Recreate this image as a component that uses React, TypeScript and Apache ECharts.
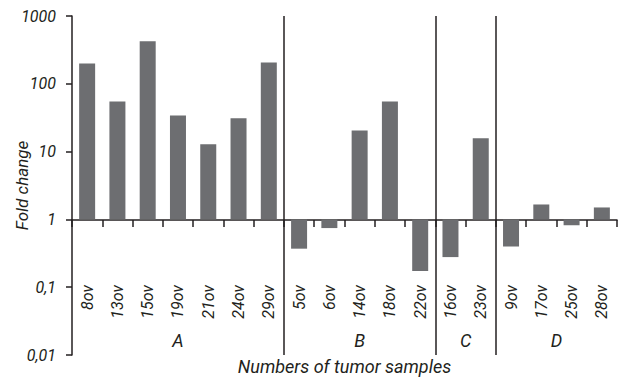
import React, { useEffect, useRef } from "react";
import * as echarts from "echarts";

const categories = ["8ov", "13ov", "15ov", "19ov", "21ov", "24ov", "29ov", "5ov", "6ov", "14ov", "18ov", "22ov", "16ov", "23ov", "9ov", "17ov", "25ov", "28ov"];
const foldChange = [200, 55, 425, 34, 12.8, 31, 207, 0.37, 0.745, 20.5, 55, 0.173, 0.278, 15.7, 0.4, 1.66, 0.82, 1.5];
const groups = [
  { name: "A", from: 0, to: 6 },
  { name: "B", from: 7, to: 11 },
  { name: "C", from: 12, to: 13 },
  { name: "D", from: 14, to: 17 },
];
const groupStarts = [7, 12, 14];
const yTicks = [0.01, 0.1, 1, 10, 100, 1000];

const FONT = "Roboto, 'Liberation Sans', Arial, sans-serif";
const INK = "#231f20";

export default function App() {
  const ref = useRef<HTMLDivElement>(null);
  useEffect(() => {
    if (!ref.current) return;
    const chart = echarts.init(ref.current, null, { renderer: "svg" });
    const option: any = {
      animation: false,
      grid: { left: 72, right: 3, top: 16, bottom: 25, outerBoundsMode: "none", containLabel: false },
      xAxis: {
        type: "category",
        data: categories,
        position: "bottom",
        offset: -135,
        name: "Numbers of tumor samples",
        nameLocation: "middle",
        nameGap: 137,
        nameMoveOverlap: false,
        nameTextStyle: { fontFamily: FONT, fontStyle: "italic", fontSize: 18, color: INK },
        axisLine: { show: true, lineStyle: { color: INK, width: 1.5 } },
        axisTick: { show: true, interval: 0, length: 7, lineStyle: { color: INK, width: 1.5 } },
        axisLabel: {
          interval: 0,
          rotate: 90,
          margin: 65,
          fontFamily: FONT,
          fontStyle: "italic",
          fontSize: 16,
          color: INK,
        },
        splitLine: {
          show: true,
          interval: (index: number) => groupStarts.indexOf(index) >= 0,
          showMinLine: true,
          showMaxLine: false,
          lineStyle: { color: INK, width: 1.5, type: "solid" },
        },
      },
      yAxis: {
        type: "log",
        logBase: 10,
        min: yTicks[0],
        max: yTicks[yTicks.length - 1],
        name: "Fold change",
        nameLocation: "middle",
        nameGap: 42,
        nameMoveOverlap: false,
        nameTextStyle: { fontFamily: FONT, fontStyle: "italic", fontSize: 17, color: INK },
        axisLine: { show: true, lineStyle: { color: INK, width: 1.5 } },
        axisTick: { show: true, length: 6, lineStyle: { color: INK, width: 1.5 } },
        splitLine: { show: false },
        axisLabel: {
          margin: 16,
          fontFamily: FONT,
          fontStyle: "italic",
          fontSize: 16,
          color: INK,
          formatter: (v: number) => String(v).replace(".", ","),
        },
      },
      series: [
        {
          type: "bar",
          data: foldChange,
          barWidth: 16,
          itemStyle: { color: "#6d6e71" },
        },
      ],
    };
    chart.setOption(option);
    const bottomY = chart.convertToPixel({ yAxisIndex: 0 }, yTicks[0]) as number;
    const graphic = groups.map((g) => {
      const x1 = chart.convertToPixel({ xAxisIndex: 0 }, categories[g.from]) as number;
      const x2 = chart.convertToPixel({ xAxisIndex: 0 }, categories[g.to]) as number;
      return {
        type: "text",
        x: (x1 + x2) / 2,
        y: bottomY - 15,
        style: {
          text: g.name,
          fontFamily: FONT,
          fontStyle: "italic",
          fontSize: 18,
          fill: INK,
          align: "center",
          verticalAlign: "middle",
        },
      };
    });
    chart.setOption({ graphic });
    return () => chart.dispose();
  }, []);
  return <div ref={ref} style={{ width: 620, height: 380, position: "absolute", left: 0, top: 0 }} />;
}
